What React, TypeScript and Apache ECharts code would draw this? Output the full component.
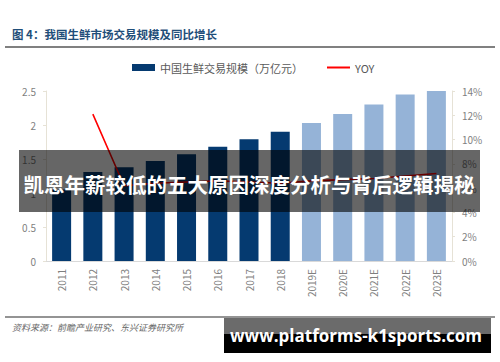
import React, { useEffect, useRef } from "react";
import * as echarts from "echarts";

const categories = ["2011", "2012", "2013", "2014", "2015", "2016", "2017", "2018", "2019E", "2020E", "2021E", "2022E", "2023E"];
const scaleValues = [1.05, 1.31, 1.38, 1.47, 1.57, 1.68, 1.79, 1.9, 2.03, 2.16, 2.3, 2.45, 2.5];
const yoyValues: (number | null)[] = [null, 12.1, 6.2, 6.4, 6.5, 6.6, 6.5, 6.4, 6.6, 6.7, 6.8, 7.0, 7.2];
const forecastFlags = [false, false, false, false, false, false, false, false, true, true, true, true, true];
const leftTicks = ["0", "0.5", "1", "1.5", "2", "2.5"];

const titleText = "图 4：我国生鲜市场交易规模及同比增长";
const barName = "中国生鲜交易规模（万亿元）";
const lineName = "YOY";
const sourceText = "资料来源：前瞻产业研究、东兴证券研究所";
const bannerText = "凯恩年薪较低的五大原因深度分析与背后逻辑揭秘";
const siteText = "www.platforms-k1sports.com";

const DARK = "#053a70";
const LIGHT = "#95b3d7";

export default function App() {
  const ref = useRef<HTMLDivElement>(null);
  useEffect(() => {
    if (!ref.current) return;
    const chart = echarts.init(ref.current, null, { renderer: "svg" });
    const font = "'Noto Sans CJK SC', 'Noto Sans', sans-serif";
    chart.setOption({
      animation: false,
      backgroundColor: "#ffffff",
      textStyle: { fontFamily: font },
      grid: { left: 46, right: 48, top: 91, bottom: 101, containLabel: false },
      legend: {
        left: 132,
        top: 62,
        padding: 0,
        itemWidth: 23,
        itemHeight: 7,
        itemGap: 23,
        textStyle: { fontSize: 11, color: "#595959", fontFamily: font },
        data: [
          { name: barName, icon: "rect", itemStyle: { color: DARK } },
          { name: lineName, itemStyle: { opacity: 0 } },
        ],
      },
      xAxis: {
        type: "category",
        data: categories,
        axisLine: { show: true, lineStyle: { color: "#d9d9d9" } },
        axisTick: { show: false },
        axisLabel: { rotate: 90, color: "#7f7f7f", fontSize: 10, margin: 8 },
      },
      yAxis: [
        {
          type: "value",
          min: 0,
          max: 2.5,
          interval: 0.5,
          splitLine: { show: false },
          axisLine: { show: true, lineStyle: { color: "#e6e2d6" } },
          axisTick: { show: true, length: 3, lineStyle: { color: "#e6e2d6" } },
          axisLabel: {
            color: "#7f7f7f",
            fontSize: 10,
            margin: 10,
            formatter: (v: number) => leftTicks[Math.round(v / 0.5)] ?? String(v),
          },
        },
        {
          type: "value",
          min: 0,
          max: 14,
          interval: 2,
          position: "right",
          splitLine: { show: false },
          axisLine: { show: true, lineStyle: { color: "#e6e2d6" } },
          axisTick: { show: true, length: 3, lineStyle: { color: "#e6e2d6" } },
          axisLabel: { color: "#7f7f7f", fontSize: 10, margin: 10, formatter: "{value}%" },
        },
      ],
      series: [
        {
          name: barName,
          type: "bar",
          barWidth: 19,
          data: scaleValues.map((v, i) => ({
            value: v,
            itemStyle: { color: forecastFlags[i] ? LIGHT : DARK },
          })),
          itemStyle: { color: DARK },
        },
        {
          name: lineName,
          type: "line",
          yAxisIndex: 1,
          data: yoyValues,
          symbol: "none",
          connectNulls: false,
          lineStyle: { color: "#ff0000", width: 1.6 },
          itemStyle: { color: "#ff0000" },
        },
      ],
      graphic: [
        {
          type: "text",
          left: 12,
          top: 28,
          z: 100,
          style: { text: titleText, fontSize: 11.5, fontWeight: "bold", fill: "#1f4e79", fontFamily: font },
        },
        {
          type: "line",
          z: 100,
          shape: { x1: 5, y1: 47, x2: 495, y2: 47 },
          style: { stroke: "#808080", lineWidth: 2 },
        },
        {
          type: "line",
          z: 100,
          shape: { x1: 5, y1: 317, x2: 495, y2: 317 },
          style: { stroke: "#707070", lineWidth: 1.5 },
        },
        {
          type: "text",
          left: 12,
          top: 323,
          z: 100,
          style: { text: sourceText, fontSize: 9, fontStyle: "italic", fill: "#666666", fontFamily: font },
        },
        {
          type: "rect",
          z: 200,
          shape: { x: 19, y: 150, width: 461, height: 62 },
          style: { fill: "rgba(0,0,0,0.6)" },
        },
        {
          type: "text",
          z: 201,
          x: 249,
          y: 184,
          style: {
            text: bannerText,
            fontSize: 20.5,
            fontWeight: "bold",
            fill: "#ffffff",
            align: "center",
            verticalAlign: "middle",
            fontFamily: font,
          },
        },
        {
          type: "rect",
          z: 200,
          shape: { x: 224, y: 318, width: 267, height: 16 },
          style: { fill: "#6b6b6b" },
        },
        {
          type: "rect",
          z: 200,
          shape: { x: 224, y: 334, width: 267, height: 19 },
          style: { fill: "#000000" },
        },
        {
          type: "text",
          z: 201,
          x: 356,
          y: 335,
          style: {
            text: siteText,
            fontSize: 17,
            fontWeight: "bold",
            fill: "#ffffff",
            align: "center",
            verticalAlign: "middle",
            fontFamily: "'Open Sans', 'DejaVu Sans', sans-serif",
          },
        },
      ],
    });
    return () => chart.dispose();
  }, []);
  return (
    <div
      ref={ref}
      style={{ position: "fixed", left: 0, top: 0, width: 500, height: 362, background: "#fff" }}
    />
  );
}
